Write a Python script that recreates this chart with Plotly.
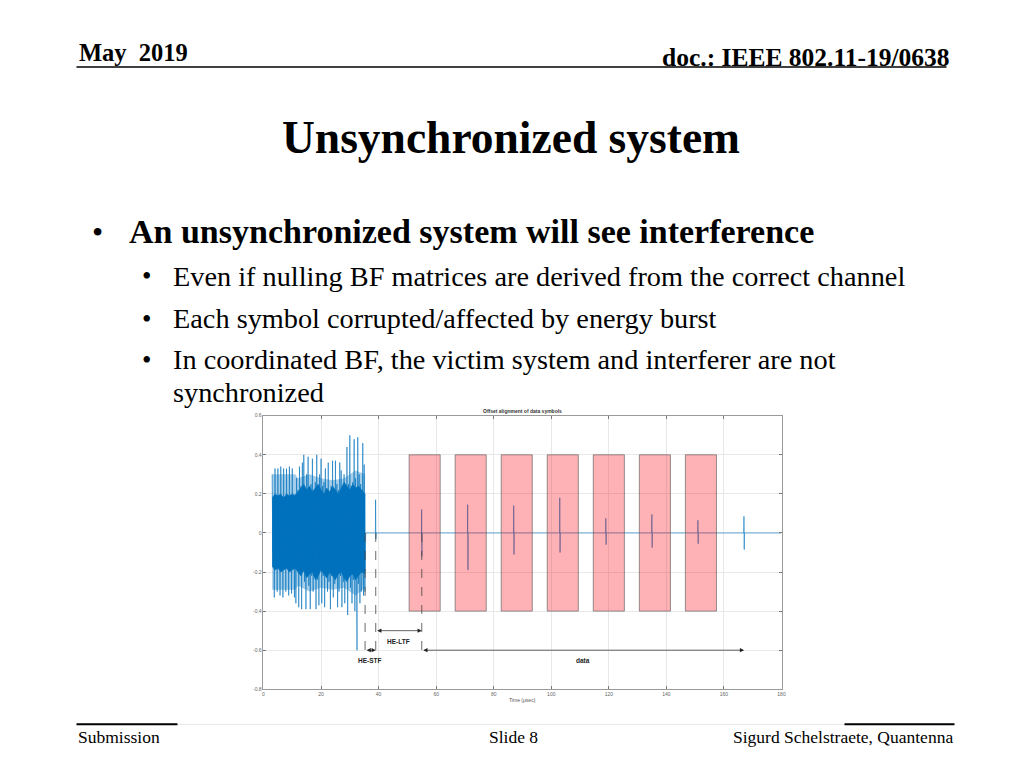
import numpy as np
import plotly.graph_objects as go

# ---------------- data ----------------
# burst (preamble) samples, 0.25 us grid starting at 3.0 us
burst_start = 3.0
burst_step = 0.25
burst_values = [
    0.30, -0.10, 0.16, -0.33, 0.33, -0.12, 0.18, -0.30,
    0.33, -0.14, 0.15, -0.32, 0.34, -0.11, 0.17, -0.33,
    0.33, -0.13, 0.18, -0.30, 0.33, -0.12, 0.16, -0.32,
    0.34, -0.14, 0.18, -0.31, 0.33, -0.10, 0.17, -0.33,
    0.20, -0.36, 0.28, -0.15, 0.22, -0.38, 0.34, -0.18,
    0.24, -0.39, 0.36, -0.20, 0.40, -0.25, 0.22, -0.39,
    0.30, -0.18, 0.39, -0.27, 0.20, -0.39, 0.25, -0.22,
    0.38, -0.30, 0.22, -0.20, 0.26, -0.39, 0.40, -0.24,
    0.22, -0.37, 0.30, -0.19, 0.38, -0.36, 0.24, -0.22,
    0.26, -0.38, 0.33, -0.20, 0.22, -0.30, 0.36, -0.25,
    0.21, -0.39, 0.24, -0.22, 0.37, -0.33, 0.20, -0.26,
    0.37, -0.21, 0.25, -0.38, 0.22, -0.30, 0.36, -0.22,
    0.32, -0.38, 0.20, -0.25, 0.30, -0.36, 0.24, -0.20,
    0.44, -0.42, 0.25, -0.22, 0.50, -0.28, 0.24, -0.36,
    0.26, -0.24, 0.48, -0.40, 0.28, -0.22, -0.60, 0.49,
    -0.26, 0.30, -0.36, 0.25, -0.30, -0.22, 0.46, -0.32,
    0.35, -0.30, 0.0,
]
# dense dark core of the preamble burst
core_t = [3, 4, 5, 6, 7, 8, 9, 10, 11, 12, 13, 14, 15, 16, 17, 18, 19, 20, 21, 22, 23,
          24, 25, 26, 27, 28, 29, 30, 31, 32, 33, 34, 35, 35.3]
core_hi = [0.18, 0.20, 0.19, 0.20, 0.18, 0.20, 0.19, 0.20, 0.19,
           0.21, 0.23, 0.25, 0.22, 0.24, 0.21, 0.23, 0.25, 0.22, 0.20, 0.23, 0.21, 0.24,
           0.22, 0.20, 0.23, 0.26, 0.24, 0.22, 0.25, 0.23, 0.24, 0.22, 0.20, 0.20]
core_lo = [-0.17, -0.19, -0.18, -0.20, -0.19, -0.18, -0.20, -0.19, -0.18,
           -0.20, -0.22, -0.19, -0.23, -0.21, -0.20, -0.24, -0.22, -0.19, -0.21, -0.23, -0.20,
           -0.22, -0.24, -0.21, -0.20, -0.23, -0.25, -0.22, -0.21, -0.24, -0.22, -0.20, -0.21, -0.19]
# lighter, less dense spike band around the core
band_t = [3, 7, 11, 12, 16, 20, 24, 28, 32, 35.3]
band_hi = [0.30, 0.30, 0.30, 0.28, 0.30, 0.28, 0.27, 0.28, 0.32, 0.30]
band_lo = [-0.29, -0.29, -0.29, -0.27, -0.30, -0.28, -0.29, -0.28, -0.32, -0.28]

# isolated energy bursts after the preamble
spike_t = [39.0, 55.0, 71.0, 87.0, 103.0, 119.0, 135.0, 151.0, 167.0]
spike_hi = [0.17, 0.12, 0.145, 0.14, 0.18, 0.075, 0.095, 0.065, 0.085]
spike_lo = [-0.03, -0.12, -0.19, -0.11, -0.10, -0.06, -0.075, -0.055, -0.085]
signal_end = 180.0

# data-symbol windows
rect_start = [50.6, 66.6, 82.6, 98.6, 114.6, 130.6, 146.6]
rect_end = [61.4, 77.4, 93.4, 109.4, 125.4, 141.4, 157.4]
rect_lo, rect_hi = -0.4, 0.4

# field boundaries and labels
stf_start, ltf_start, data_start, data_end = 35.3, 39.0, 55.0, 167.0
ltf_arrow_y, stf_arrow_y = -0.5, -0.6

x_ticks = [0, 20, 40, 60, 80, 100, 120, 140, 160, 180]
y_ticks = [-0.8, -0.6, -0.4, -0.2, 0, 0.2, 0.4, 0.6]
y_tick_text = ["-0.8", "-0.6", "-0.4", "-0.2", "0", "0.2", "0.4", "0.6"]

# ---------------- build signal ----------------
bt = burst_start + burst_step * np.arange(len(burst_values))
xs = list(bt)
ys = list(burst_values)
for t, hi, lo in zip(spike_t, spike_hi, spike_lo):
    xs += [t - 0.12, t - 0.05, t, t + 0.05, t + 0.12]
    ys += [0.0, hi, -0.02, lo, 0.0]
xs.append(signal_end)
ys.append(0.0)

# page has an 8px body margin; figure is placed at (8, 8)
OFF = 8
W, H = 1008, 752
def px(x):
    x = 512 + (x - 512) * 1.005
    return (x - OFF) / W
def py(y):
    y = 416 + (y - 416) * 1.01
    return 1 - (y - OFF) / H

BLUE = "#0072BD"
fig = go.Figure()
fig.add_trace(go.Scatter(x=band_t + band_t[::-1], y=band_hi + band_lo[::-1], mode="lines",
                         fill="toself", fillcolor="rgba(0,114,189,0.35)", line=dict(width=0),
                         hoverinfo="skip", showlegend=False))
fig.add_trace(go.Scatter(x=core_t + core_t[::-1], y=core_hi + core_lo[::-1], mode="lines",
                         fill="toself", fillcolor=BLUE, line=dict(color=BLUE, width=0.5),
                         hoverinfo="skip", showlegend=False))
fig.add_trace(go.Scatter(x=xs, y=ys, mode="lines",
                         line=dict(color=BLUE, width=0.6),
                         hoverinfo="skip", showlegend=False))

shapes = []
for a, b in zip(rect_start, rect_end):
    shapes.append(dict(type="rect", xref="x", yref="y", x0=a, x1=b, y0=rect_lo, y1=rect_hi,
                       fillcolor="rgba(255,0,10,0.30)", line=dict(color="rgba(90,90,90,0.8)", width=0.8),
                       layer="above"))
for xv in [stf_start, ltf_start, data_start]:
    shapes.append(dict(type="line", xref="x", yref="y", x0=xv, x1=xv, y0=0, y1=stf_arrow_y,
                       line=dict(color="#444", width=0.8, dash="dash")))

# slide lines
shapes.append(dict(type="line", xref="paper", yref="paper", x0=px(78), x1=px(948), y0=py(68), y1=py(68),
                   line=dict(color="black", width=1.5)))
shapes.append(dict(type="line", xref="paper", yref="paper", x0=px(180), x1=px(846), y0=py(724), y1=py(724),
                   line=dict(color="#e6e6e6", width=1)))
shapes.append(dict(type="line", xref="paper", yref="paper", x0=px(78), x1=px(179), y0=py(724), y1=py(724),
                   line=dict(color="black", width=2)))
shapes.append(dict(type="line", xref="paper", yref="paper", x0=px(846), x1=px(956), y0=py(724), y1=py(724),
                   line=dict(color="black", width=2)))

serif = "Liberation Serif"
ann = []
def txt(s, x, y, size, anchor="left", bold=False, color="black"):
    ann.append(dict(text=("<b>%s</b>" % s) if bold else s, x=px(x), y=py(y), xref="paper", yref="paper",
                    xanchor=anchor, yanchor="middle", showarrow=False,
                    font=dict(family=serif, size=size, color=color)))

txt("May  2019", 79, 53, 24.5, bold=True)
txt("doc.: IEEE 802.11-19/0638", 953, 58, 25.5, anchor="right", bold=True)
txt("Unsynchronized system", 512, 138, 45.5, anchor="center", bold=True)
txt("•", 92, 233, 32)
txt("An unsynchronized system will see interference", 129, 232, 34, bold=True)
bullets = ["Even if nulling BF matrices are derived from the correct channel",
           "Each symbol corrupted/affected by energy burst",
           "In coordinated BF, the victim system and interferer are not"]
for b, yy in zip(bullets, [277, 319, 360]):
    txt("•", 142, yy, 27)
    txt(b, 173, yy, 28.3)
txt("synchronized", 173, 393, 28.3)
txt("Submission", 78, 737, 17.5)
txt("Slide 8", 515, 737, 17.5, anchor="center")
txt("Sigurd Schelstraete, Quantenna", 956, 737, 17.5, anchor="right")

# chart texts
ann.append(dict(text="<b>Offset alignment of data symbols</b>", x=px(524), y=py(411), xref="paper", yref="paper",
                showarrow=False, xanchor="center", yanchor="middle",
                font=dict(family="Liberation Sans", size=5, color="#333")))
ann.append(dict(text="Time (μsec)", x=px(524), y=py(700), xref="paper", yref="paper",
                showarrow=False, xanchor="center", yanchor="middle",
                font=dict(family="Liberation Sans", size=5, color="#555")))
lab_font = dict(family="Liberation Sans", size=6.5, color="#222")
ann.append(dict(text="<b>HE-LTF</b>", x=(ltf_start + data_start) / 2, y=-0.555, xref="x", yref="y",
                showarrow=False, font=lab_font))
ann.append(dict(text="<b>HE-STF</b>", x=(stf_start + ltf_start) / 2, y=-0.655, xref="x", yref="y",
                showarrow=False, font=lab_font))
ann.append(dict(text="<b>data</b>", x=(data_start + data_end) / 2, y=-0.655, xref="x", yref="y",
                showarrow=False, font=lab_font))
for a, b, yy in [(ltf_start, data_start, ltf_arrow_y), (stf_start, ltf_start, stf_arrow_y),
                 (data_start, data_end, stf_arrow_y)]:
    ann.append(dict(text="", x=b, y=yy, ax=a, ay=yy, xref="x", yref="y", axref="x", ayref="y",
                    showarrow=True, arrowside="end+start", arrowhead=2, arrowsize=1.2,
                    arrowwidth=0.7, arrowcolor="#222"))

axis_common = dict(showgrid=True, gridcolor="#e8e8e8", gridwidth=0.7, zeroline=False,
                   showline=True, linecolor="#9a9a9a", linewidth=0.8, mirror="ticks",
                   ticks="inside", ticklen=3, tickcolor="#777", tickwidth=0.6,
                   tickfont=dict(family="Liberation Sans", size=5, color="#666"))
fig.update_layout(
    width=W, height=H, margin=dict(l=0, r=0, t=0, b=0),
    paper_bgcolor="white", plot_bgcolor="white",
    shapes=shapes, annotations=ann, showlegend=False,
    xaxis=dict(domain=[px(265), px(783)], range=[0, 180], tickvals=x_ticks, **axis_common),
    yaxis=dict(domain=[py(689), py(416)], range=[-0.8, 0.6], tickvals=y_ticks, ticktext=y_tick_text,
               **axis_common),
)
fig.write_html("out.html")
